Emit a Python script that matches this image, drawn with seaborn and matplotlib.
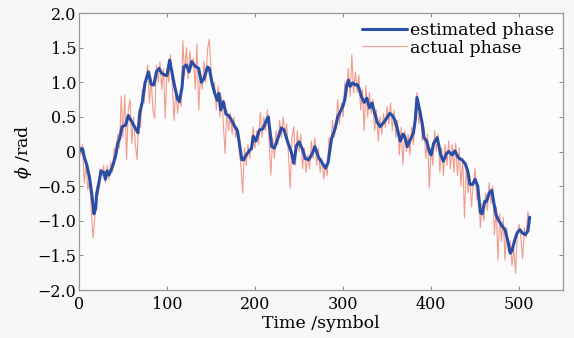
import matplotlib
matplotlib.use("Agg")
import matplotlib.pyplot as plt
import numpy as np
import seaborn as sns
from matplotlib.ticker import FuncFormatter

# estimated phase at irregular symbol positions
est_t = [0, 2, 4, 6, 9, 12, 15, 17, 19, 20, 22, 25, 28, 30, 32, 34, 37, 39, 42, 44,
         46, 49, 53, 56, 59, 63, 67, 69, 72, 75, 79, 82, 85, 88, 91, 94, 98, 100, 103, 106,
         109, 112, 114, 117, 119, 122, 125, 128, 132, 136, 139, 142, 146, 148, 151, 154, 157, 159, 161, 164,
         167, 170, 173, 177, 180, 182, 185, 187, 190, 194, 196, 198, 201, 205, 209, 213, 215, 217, 219, 222,
         226, 230, 233, 237, 241, 244, 247, 250, 254, 257, 261, 265, 268, 272, 275, 280, 283, 287, 291, 294,
         297, 300, 302, 304, 306, 308, 311, 314, 316, 318, 321, 324, 327, 330, 333, 336, 339, 342, 345, 349,
         353, 356, 359, 362, 365, 368, 370, 373, 376, 380, 382, 384, 387, 390, 392, 395, 398, 400, 403, 407,
         411, 414, 417, 420, 424, 427, 431, 435, 439, 442, 444, 447, 450, 453, 456, 458, 461, 463, 466, 469,
         471, 474, 477, 481, 484, 487, 490, 492, 495, 498, 501, 504, 507, 510, 512]
est_phase = [0.0, 0.04, 0.04, -0.08, -0.2, -0.38, -0.66, -0.9, -0.82, -0.62, -0.5, -0.28, -0.3, -0.4, -0.28, -0.34, -0.25, -0.18, -0.04, 0.12,
             0.18, 0.36, 0.38, 0.52, 0.45, 0.36, 0.27, 0.55, 0.72, 0.99, 1.15, 0.97, 0.96, 1.15, 1.2, 1.13, 1.1, 1.1, 1.32, 1.12,
             0.92, 0.76, 0.72, 0.92, 1.22, 1.25, 1.15, 1.3, 1.23, 1.2, 1.0, 1.05, 1.22, 1.2, 1.0, 0.85, 0.74, 0.84, 0.6, 0.72,
             0.54, 0.52, 0.46, 0.36, 0.3, 0.14, -0.12, -0.12, -0.05, 0.02, 0.04, 0.22, 0.15, 0.31, 0.33, 0.45, 0.5, 0.3, 0.07, 0.05,
             0.19, 0.34, 0.31, 0.14, 0.0, -0.17, 0.08, 0.14, 0.03, -0.1, -0.12, -0.03, 0.07, -0.08, -0.14, -0.24, -0.16, 0.19, 0.33, 0.5,
             0.58, 0.66, 0.75, 0.94, 1.03, 0.94, 0.99, 0.96, 0.97, 0.92, 0.79, 0.71, 0.77, 0.63, 0.7, 0.55, 0.42, 0.36, 0.4, 0.47,
             0.55, 0.52, 0.45, 0.31, 0.15, 0.25, 0.22, 0.07, 0.16, 0.27, 0.45, 0.78, 0.6, 0.4, 0.2, 0.15, 0.0, -0.05, 0.12, 0.2,
             -0.05, -0.14, -0.04, 0.0, -0.05, 0.01, -0.09, -0.12, -0.18, -0.3, -0.47, -0.48, -0.4, -0.5, -0.88, -0.9, -0.72, -0.72, -0.6, -0.56,
             -0.72, -0.92, -1.0, -1.08, -1.13, -1.28, -1.47, -1.43, -1.28, -1.17, -1.13, -1.18, -1.2, -1.15, -0.95]

# actual phase, one value every 2 symbols
act_step = 2
act_phase = [0.2, -0.05, 0.1, -0.45, -0.2, -0.55, -0.4, -0.85, -1.25, -0.95,
             -0.5, -0.62, -0.25, -0.35, -0.2, -0.45, -0.2, -0.4, -0.15, -0.3,
             0.05, -0.1, 0.25, 0.05, 0.8, 0.2, 0.82, -0.12, 0.6, 0.75,
             0.12, 0.5, 0.1, -0.12, 0.6, 0.35, 0.9, 0.7, 1.05, 1.25,
             0.7, 1.05, 0.6, 0.48, 1.25, 1.0, 1.3, 0.9, 1.2, 0.48,
             1.2, 1.0, 1.4, 0.95, 0.45, 0.9, 0.55, 0.8, 0.65, 1.6,
             1.1, 1.5, 1.05, 1.45, 1.2, 1.35, 0.9, 1.55, 0.6, 1.1,
             0.9, 1.3, 1.0, 1.47, 1.62, 1.2, 0.9, 1.0, 0.6, 0.95,
             0.5, 0.8, 0.4, -0.03, 0.6, 0.3, 0.55, 0.25, 0.5, 0.2,
             0.35, 0.0, -0.2, -0.6, 0.05, -0.2, 0.1, -0.1, 0.15, 0.35,
             0.05, 0.3, 0.1, 0.57, 0.2, 0.5, 0.3, 0.6, 0.15, -0.34,
             0.2, -0.1, 0.3, 0.1, 0.45, 0.2, 0.5, 0.25, 0.4, -0.05,
             -0.53, 0.2, 0.36, -0.2, 0.3, 0.0, 0.25, -0.25, 0.05, -0.3,
             -0.05, -0.25, 0.15, -0.1, 0.2, -0.2, 0.05, -0.3, -0.1, -0.4,
             -0.2, -0.35, 0.2, 0.05, 0.45, 0.2, 0.4, 0.75, 0.4, 0.7,
             0.5, 1.0, 0.8, 1.2, 0.8, 1.4, 0.85, 1.15, 0.85, 1.1,
             0.6, 0.9, 0.3, 0.95, 0.5, 0.85, 0.55, 0.75, 0.3, 0.6,
             0.15, 0.5, 0.25, 0.55, 0.35, 0.65, 0.4, 0.7, 0.3, 0.6,
             0.2, 0.45, -0.05, 0.35, -0.19, 0.3, 0.0, 0.25, -0.05, 0.35,
             0.1, 0.55, 0.85, 0.4, 0.6, 0.15, 0.35, -0.1, 0.25, -0.53,
             0.05, -0.2, 0.3, 0.0, 0.25, -0.3, 0.05, -0.35, 0.1, -0.2,
             0.15, -0.25, 0.1, -0.3, 0.12, -0.35, 0.05, -0.5, -0.1, -0.96,
             -0.2, -0.6, -0.35, -0.8, -0.45, -0.25, -0.7, -0.55, -1.1, -0.75,
             -1.0, -0.6, -0.85, -0.45, -0.75, -0.5, -1.2, -0.8, -1.57, -0.9,
             -1.3, -0.95, -1.57, -1.1, -1.45, -1.3, -1.65, -1.4, -1.76, -1.2,
             -1.05, -1.25, -1.55, -1.1, -1.25, -0.87, -1.0]
act_t = np.arange(len(act_phase)) * act_step

x_ticks = [0, 100, 200, 300, 400, 500]
y_ticks = [-2.0, -1.5, -1.0, -0.5, 0.0, 0.5, 1.0, 1.5, 2.0]

sns.set_theme(style="ticks")
plt.rcParams["font.family"] = ["DejaVu Serif"]
plt.rcParams["mathtext.fontset"] = "dejavuserif"
plt.rcParams["text.color"] = "black"
plt.rcParams["axes.labelcolor"] = "black"

fig = plt.figure(figsize=(5.74, 3.38), dpi=100, facecolor="#f7f7f7")
ax = fig.add_axes([0.1376, 0.142, 0.8434, 0.8195])
ax.set_facecolor("#fbfbfb")

sns.lineplot(x=act_t, y=act_phase, ax=ax, color="#f08a78", linewidth=0.8,
             alpha=0.85, label="actual phase")
sns.lineplot(x=est_t, y=est_phase, ax=ax, color="#2a4ea6", linewidth=2.2,
             label="estimated phase")

ax.set_xlim(0, 550)
ax.set_ylim(-2.0, 2.0)
ax.set_xticks(x_ticks)
ax.set_yticks(y_ticks)
ax.yaxis.set_major_formatter(FuncFormatter(
    lambda v, p: "0" if abs(v) < 1e-9 else f"{v:.1f}".replace("-", "\u2212")))
ax.tick_params(direction="in", top=True, right=True, length=3, width=0.7,
               color="#888888", labelcolor="black", labelsize=11.5)
ax.tick_params(axis="y", pad=2)
ax.tick_params(axis="x", pad=4)
for s in ax.spines.values():
    s.set_color("#999999")
    s.set_linewidth(0.9)

ax.set_xlabel("Time /symbol", fontsize=12.5, labelpad=1.5)
ax.set_ylabel(r"$\phi$ /rad", fontsize=12.5, labelpad=2)

h, l = ax.get_legend_handles_labels()
ax.legend(h[::-1], l[::-1], loc="upper right", frameon=False, fontsize=12.5,
          handlelength=2.6, handletextpad=0.2, labelspacing=0.05,
          borderaxespad=0.1)

fig.savefig("out.png", dpi=100, facecolor=fig.get_facecolor())
